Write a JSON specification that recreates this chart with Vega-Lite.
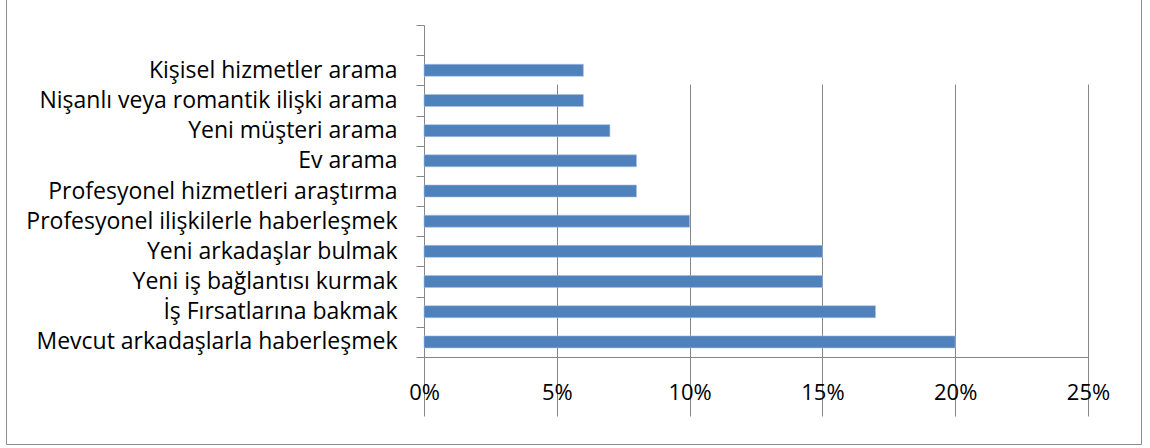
{
  "$schema": "https://vega.github.io/schema/vega-lite/v6.json",
  "autosize": "none",
  "width": 1135,
  "height": 447,
  "padding": {"left": 6, "top": -3, "right": 9, "bottom": 4},
  "background": "white",
  "config": {
    "view": {"stroke": "#8c8c8c", "strokeWidth": 1},
    "font": "Open Sans"
  },
  "data": {
    "values": [
      {"activity": "Kişisel hizmetler arama", "share": 0.06},
      {"activity": "Nişanlı veya romantik ilişki arama", "share": 0.06},
      {"activity": "Yeni müşteri arama", "share": 0.07},
      {"activity": "Ev arama", "share": 0.08},
      {"activity": "Profesyonel hizmetleri araştırma", "share": 0.08},
      {"activity": "Profesyonel ilişkilerle haberleşmek", "share": 0.10},
      {"activity": "Yeni arkadaşlar bulmak", "share": 0.15},
      {"activity": "Yeni iş bağlantısı kurmak", "share": 0.15},
      {"activity": "İş Fırsatlarına bakmak", "share": 0.17},
      {"activity": "Mevcut arkadaşlarla haberleşmek", "share": 0.20}
    ]
  },
  "mark": {"type": "bar", "size": 12, "color": "#4F81BD", "stroke": "#A7C0DE", "strokeWidth": 0.6},
  "encoding": {
    "y": {
      "field": "activity",
      "type": "nominal",
      "sort": null,
      "scale": {
        "domain": [" ", "Kişisel hizmetler arama", "Nişanlı veya romantik ilişki arama", "Yeni müşteri arama", "Ev arama", "Profesyonel hizmetleri araştırma", "Profesyonel ilişkilerle haberleşmek", "Yeni arkadaşlar bulmak", "Yeni iş bağlantısı kurmak", "İş Fırsatlarına bakmak", "Mevcut arkadaşlarla haberleşmek"],
        "range": [28, 360],
        "paddingInner": 0,
        "paddingOuter": 0
      },
      "axis": {
        "title": null,
        "offset": -418,
        "tickBand": "extent",
        "grid": false,
        "domainColor": "#868686",
        "tickColor": "#868686",
        "tickSize": 8,
        "labelPadding": 19,
        "labelFontSize": 23,
        "labelColor": "#000000",
        "labelLimit": 500
      }
    },
    "x": {
      "field": "share",
      "type": "quantitative",
      "scale": {"domain": [0, 0.25], "range": [418, 1082], "nice": false, "zero": true},
      "axis": {
        "title": null,
        "offset": -87,
        "values": [0, 0.05, 0.1, 0.15, 0.2, 0.25],
        "format": ".0%",
        "grid": true,
        "gridColor": "#868686",
        "gridOpacity": 1,
        "domainColor": "#868686",
        "tickColor": "#868686",
        "tickSize": 8,
        "labelFlush": false,
        "labelPadding": 17,
        "labelFontSize": 22,
        "labelColor": "#000000"
      }
    }
  }
}
